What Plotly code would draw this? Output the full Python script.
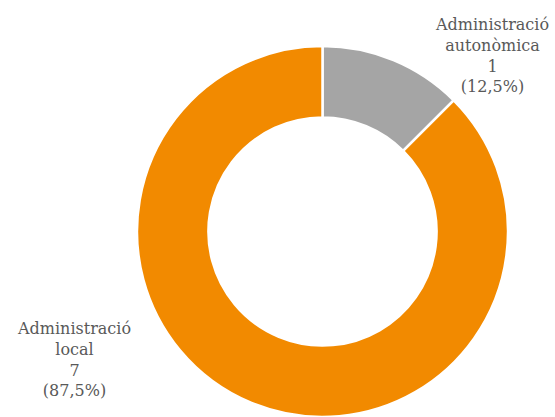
import plotly.graph_objects as go

categories = ["Administració autonòmica", "Administració local"]
values = [1, 7]
label_lines = [["Administració", "autonòmica"], ["Administració", "local"]]
colors = ["#A5A5A5", "#F28A00"]

W, H = 555, 417
total = sum(values)

fig = go.Figure(go.Pie(
    labels=categories,
    values=values,
    hole=0.615,
    sort=False,
    direction="clockwise",
    rotation=0,
    marker=dict(colors=colors, line=dict(color="white", width=2.5)),
    textinfo="none",
    hoverinfo="label+value+percent",
    showlegend=False,
    domain=dict(x=[136 / W, 509 / W], y=[0, (H - 46) / H]),
))

# label anchor positions (paper coords)
label_pos = [(492 / W, 1 - 55 / H), (74 / W, 1 - 359 / H)]
for lines, v, (x, y) in zip(label_lines, values, label_pos):
    pct = f"{100 * v / total:.1f}".replace(".", ",")
    txt = "<br>".join(lines + [str(v), f"({pct}%)"])
    fig.add_annotation(
        x=x, y=y, xref="paper", yref="paper", text=txt, showarrow=False,
        align="center", xanchor="center", yanchor="middle",
        font=dict(family="DejaVu Serif", size=16, color="#595959"),
    )

fig.update_layout(
    width=W, height=H,
    margin=dict(l=0, r=0, t=0, b=0),
    paper_bgcolor="white", plot_bgcolor="white",
)

fig.write_html(
    "out.html",
    config={"displayModeBar": False},
    post_script="document.body.style.margin='0';document.body.style.overflow='hidden';",
)
